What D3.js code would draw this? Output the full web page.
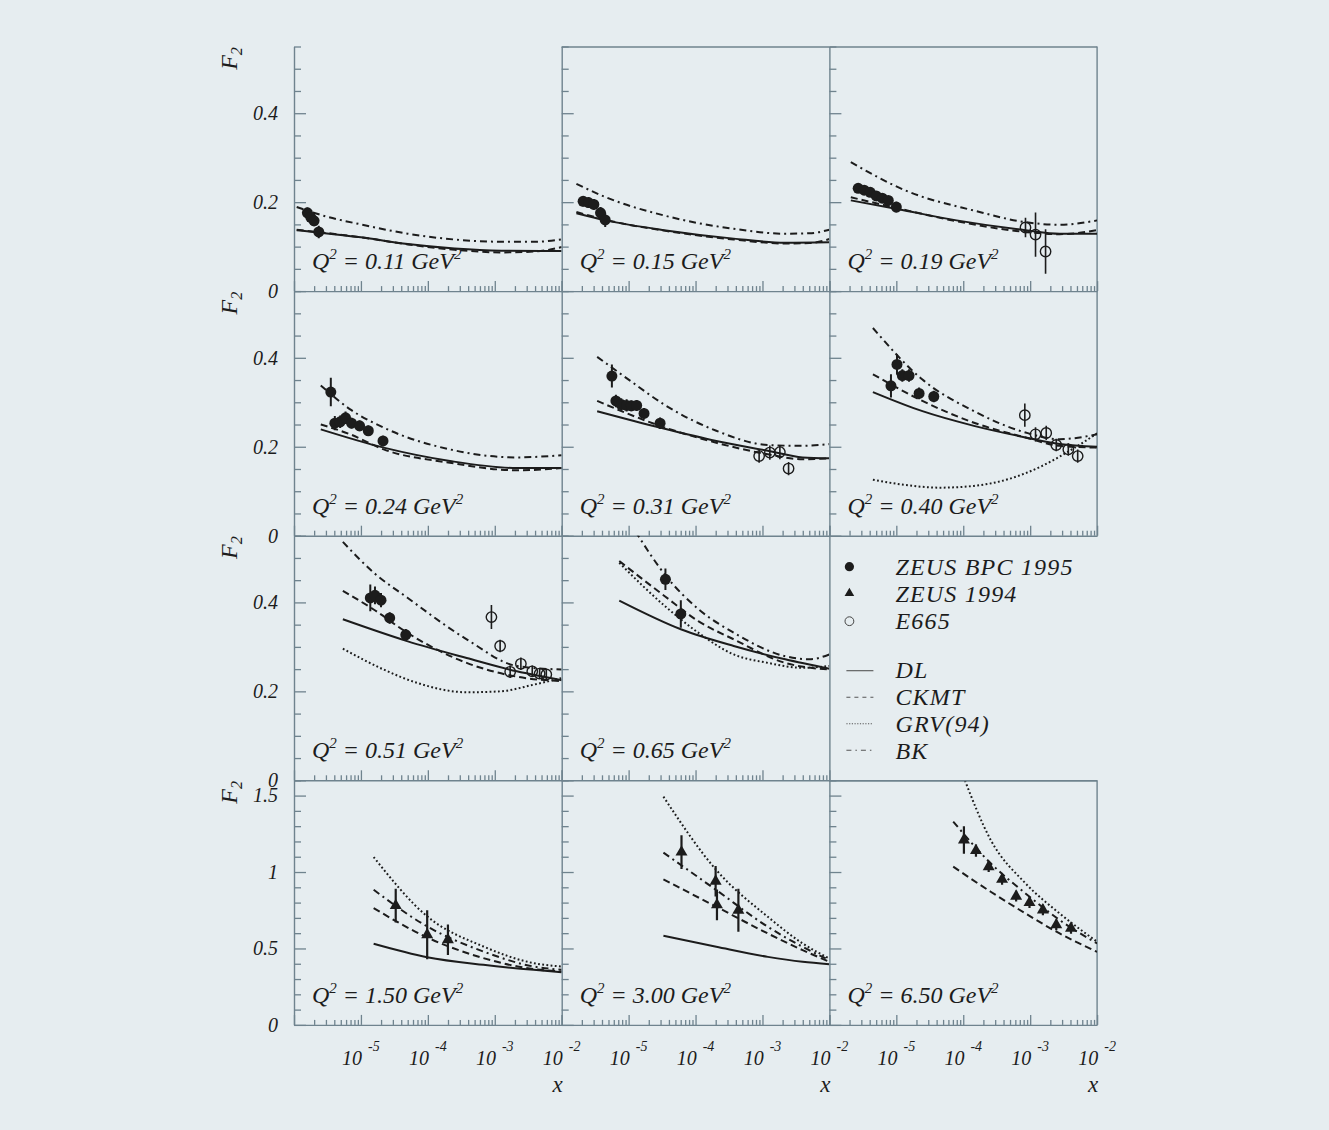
<!DOCTYPE html>
<html>
<head>
<meta charset="utf-8">
<script src="https://cdn.jsdelivr.net/npm/d3@7"></script>
<style>
  html, body { margin: 0; padding: 0; background: #e6edf0; }
  svg { display: block; }
  text { font-family: "Liberation Serif", "Times New Roman", serif; font-style: italic; }
</style>
</head>
<body>
<svg id="chart" width="1329" height="1130"></svg>
<script>
// Q² of each panel, in reading order (the legend occupies the ninth cell)
const q2Labels = ["0.11", "0.15", "0.19", "0.24", "0.31", "0.40", "0.51", "0.65", "1.50", "3.00", "6.50"];

// Measurements: [log10 x, F2, error]
const zeusBpc1995 = {
  "0.11": [[-5.80, 0.176, 0.012], [-5.75, 0.166, 0.012], [-5.70, 0.158, 0.012], [-5.63, 0.133, 0.014]],
  "0.15": [[-5.68, 0.202, 0.012], [-5.60, 0.199, 0.012], [-5.52, 0.195, 0.012], [-5.42, 0.176, 0.013], [-5.35, 0.160, 0.016]],
  "0.19": [[-5.57, 0.231, 0.010], [-5.48, 0.227, 0.010], [-5.39, 0.222, 0.010], [-5.30, 0.214, 0.010], [-5.21, 0.209, 0.010], [-5.12, 0.204, 0.010], [-5.00, 0.189, 0.012]],
  "0.24": [[-5.45, 0.323, 0.032], [-5.39, 0.253, 0.016], [-5.31, 0.256, 0.014], [-5.23, 0.265, 0.014], [-5.14, 0.253, 0.012], [-5.02, 0.247, 0.012], [-4.89, 0.236, 0.012], [-4.67, 0.213, 0.012]],
  "0.31": [[-5.25, 0.359, 0.026], [-5.19, 0.303, 0.014], [-5.11, 0.295, 0.014], [-5.03, 0.293, 0.014], [-4.96, 0.292, 0.012], [-4.88, 0.293, 0.012], [-4.77, 0.275, 0.012], [-4.53, 0.253, 0.013]],
  "0.40": [[-5.08, 0.337, 0.026], [-4.99, 0.385, 0.023], [-4.91, 0.360, 0.014], [-4.81, 0.360, 0.014], [-4.66, 0.320, 0.013], [-4.44, 0.313, 0.013]],
  "0.51": [[-4.86, 0.410, 0.030], [-4.79, 0.416, 0.020], [-4.70, 0.405, 0.016], [-4.57, 0.365, 0.013], [-4.33, 0.327, 0.013]],
  "0.65": [[-4.45, 0.452, 0.024], [-4.22, 0.374, 0.031]]
};
const zeus1994 = {
  "1.50": [[-4.48, 0.78, 0.11], [-4.01, 0.59, 0.16], [-3.70, 0.557, 0.10]],
  "3.00": [[-4.21, 1.13, 0.11], [-3.70, 0.94, 0.10], [-3.68, 0.785, 0.10], [-3.36, 0.75, 0.14]],
  "6.50": [[-3.99, 1.21, 0.09], [-3.81, 1.14, 0.04], [-3.62, 1.035, 0.035], [-3.42, 0.952, 0.035], [-3.21, 0.842, 0.035],
           [-3.01, 0.800, 0.035], [-2.81, 0.752, 0.035], [-2.61, 0.654, 0.035], [-2.39, 0.632, 0.035]]
};
const e665 = {
  "0.19": [[-3.07, 0.143, 0.022], [-2.92, 0.127, 0.050], [-2.77, 0.089, 0.050]],
  "0.31": [[-3.05, 0.179, 0.015], [-2.89, 0.187, 0.016], [-2.74, 0.188, 0.016], [-2.61, 0.151, 0.015]],
  "0.40": [[-3.08, 0.271, 0.026], [-2.92, 0.228, 0.016], [-2.76, 0.231, 0.016], [-2.61, 0.204, 0.014], [-2.43, 0.194, 0.014], [-2.29, 0.179, 0.015]],
  "0.51": [[-3.05, 0.367, 0.027], [-2.92, 0.302, 0.014], [-2.77, 0.244, 0.014], [-2.61, 0.262, 0.014], [-2.44, 0.245, 0.013], [-2.33, 0.240, 0.012], [-2.23, 0.238, 0.012]]
};

// Model predictions: [log10 x, F2]
const dlCurve = {
  "0.11": [[-5.96, 0.137], [-5.64, 0.132], [-5.0, 0.121], [-4.3, 0.106], [-3.6, 0.096], [-2.9, 0.091], [-2.0, 0.090]],
  "0.15": [[-5.78, 0.175], [-5.34, 0.159], [-4.47, 0.137], [-3.43, 0.118], [-2.66, 0.109], [-2.0, 0.110]],
  "0.19": [[-5.68, 0.204], [-4.97, 0.184], [-4.10, 0.159], [-3.07, 0.137], [-2.56, 0.129], [-2.0, 0.129]],
  "0.24": [[-5.60, 0.239], [-4.66, 0.198], [-3.67, 0.168], [-2.67, 0.152], [-2.0, 0.152]],
  "0.31": [[-5.47, 0.280], [-4.53, 0.243], [-3.69, 0.213], [-2.92, 0.191], [-2.40, 0.176], [-2.0, 0.174]],
  "0.40": [[-5.35, 0.323], [-4.61, 0.280], [-3.84, 0.247], [-3.07, 0.221], [-2.56, 0.206], [-2.0, 0.200]],
  "0.51": [[-5.27, 0.362], [-4.31, 0.313], [-3.42, 0.275], [-2.67, 0.245], [-2.0, 0.225]],
  "0.65": [[-5.14, 0.404], [-4.21, 0.339], [-3.43, 0.302], [-2.66, 0.272], [-2.0, 0.251]],
  "1.50": [[-4.81, 0.531], [-4.01, 0.443], [-3.17, 0.393], [-2.42, 0.360], [-2.0, 0.345]],
  "3.00": [[-4.48, 0.583], [-3.69, 0.511], [-2.92, 0.445], [-2.40, 0.413], [-2.0, 0.397]]
};
const ckmtCurve = {
  "0.11": [[-5.96, 0.138], [-5.0, 0.121], [-4.3, 0.105], [-3.6, 0.093], [-2.9, 0.087], [-2.4, 0.089], [-2.0, 0.099]],
  "0.15": [[-5.78, 0.178], [-5.34, 0.160], [-4.47, 0.136], [-3.43, 0.116], [-2.66, 0.107], [-2.3, 0.108], [-2.0, 0.117]],
  "0.19": [[-5.68, 0.211], [-4.97, 0.186], [-4.10, 0.157], [-3.07, 0.133], [-2.56, 0.128], [-2.0, 0.137]],
  "0.24": [[-5.60, 0.250], [-5.16, 0.228], [-4.66, 0.194], [-3.67, 0.164], [-2.67, 0.147], [-2.0, 0.152]],
  "0.31": [[-5.47, 0.303], [-4.53, 0.247], [-3.69, 0.209], [-2.92, 0.183], [-2.40, 0.172], [-2.0, 0.174]],
  "0.40": [[-5.35, 0.363], [-4.61, 0.303], [-3.84, 0.254], [-3.07, 0.221], [-2.56, 0.202], [-2.0, 0.198]],
  "0.51": [[-5.27, 0.426], [-4.81, 0.384], [-4.31, 0.332], [-3.42, 0.264], [-2.67, 0.233], [-2.0, 0.223]],
  "0.65": [[-5.14, 0.493], [-4.46, 0.414], [-3.96, 0.358], [-3.43, 0.317], [-2.66, 0.264], [-2.0, 0.249]],
  "1.50": [[-4.81, 0.764], [-4.01, 0.572], [-3.17, 0.437], [-2.42, 0.365], [-2.0, 0.349]],
  "3.00": [[-4.48, 0.952], [-3.69, 0.773], [-2.92, 0.598], [-2.40, 0.489], [-2.0, 0.413]],
  "6.50": [[-4.15, 1.035], [-3.59, 0.871], [-3.07, 0.729], [-2.56, 0.598], [-2.0, 0.478]]
};
const grvCurve = {
  "0.40": [[-5.35, 0.126], [-4.86, 0.114], [-4.35, 0.108], [-3.84, 0.112], [-3.33, 0.127], [-2.82, 0.157], [-2.41, 0.191], [-2.0, 0.230]],
  "0.51": [[-5.27, 0.296], [-4.66, 0.249], [-4.16, 0.219], [-3.42, 0.198], [-2.92, 0.200], [-2.42, 0.215], [-2.0, 0.230]],
  "0.65": [[-5.14, 0.489], [-4.46, 0.392], [-3.96, 0.332], [-3.43, 0.283], [-2.92, 0.264], [-2.40, 0.253], [-2.0, 0.257]],
  "1.50": [[-4.81, 1.098], [-4.01, 0.710], [-3.17, 0.513], [-2.42, 0.404], [-2.0, 0.382]],
  "3.00": [[-4.48, 1.493], [-3.69, 1.013], [-2.92, 0.707], [-2.40, 0.533], [-2.0, 0.434]],
  "6.50": [[-4.02, 1.650], [-3.59, 1.210], [-3.07, 0.926], [-2.56, 0.729], [-2.0, 0.544]]
};
const bkCurve = {
  "0.11": [[-5.96, 0.189], [-5.5, 0.167], [-5.0, 0.150], [-4.3, 0.129], [-3.6, 0.116], [-2.9, 0.111], [-2.4, 0.111], [-2.0, 0.116]],
  "0.15": [[-5.78, 0.241], [-5.34, 0.211], [-4.47, 0.170], [-3.43, 0.140], [-2.66, 0.129], [-2.3, 0.130], [-2.0, 0.138]],
  "0.19": [[-5.68, 0.290], [-4.86, 0.226], [-3.84, 0.181], [-3.07, 0.155], [-2.56, 0.149], [-2.0, 0.159]],
  "0.24": [[-5.60, 0.338], [-5.16, 0.284], [-4.66, 0.243], [-3.67, 0.194], [-2.67, 0.176], [-2.0, 0.181]],
  "0.31": [[-5.47, 0.402], [-5.0, 0.351], [-4.47, 0.295], [-3.69, 0.236], [-2.92, 0.204], [-2.40, 0.202], [-2.0, 0.206]],
  "0.40": [[-5.35, 0.467], [-4.61, 0.351], [-3.84, 0.280], [-3.07, 0.232], [-2.56, 0.217], [-2.0, 0.228]],
  "0.51": [[-5.27, 0.536], [-4.81, 0.467], [-4.31, 0.411], [-3.42, 0.317], [-2.67, 0.257], [-2.0, 0.249]],
  "0.65": [[-4.90, 0.560], [-4.44, 0.459], [-3.95, 0.384], [-3.43, 0.332], [-2.66, 0.279], [-2.3, 0.272], [-2.0, 0.283]],
  "1.50": [[-4.81, 0.884], [-4.01, 0.644], [-3.17, 0.480], [-2.42, 0.382], [-2.0, 0.360]],
  "3.00": [[-4.48, 1.127], [-3.69, 0.882], [-2.92, 0.642], [-2.40, 0.511], [-2.0, 0.424]],
  "6.50": [[-4.15, 1.330], [-3.59, 1.057], [-3.07, 0.860], [-2.56, 0.686], [-2.0, 0.533]]
};

// Axis labelling
const yLabelsLow = [0, 0.2, 0.4];
const yLabelsHigh = [0, 0.5, 1, 1.5];
const xLabelExponents = [-5, -4, -3, -2];

const legendMarkers = ["ZEUS BPC 1995", "ZEUS 1994", "E665"];
const legendModels = ["DL", "CKMT", "GRV(94)", "BK"];

// ---------------------------------------------------------------------------
const svg = d3.select("#chart");
const ink = "#1c1c1c";
const frame = "#6f838e";
const originX = 294, originY = 46.5;
const PW = 267.7, PH = 244.6;

const x = d3.scaleLog().domain([1e-6, 1e-2]).range([0, PW]);
const yLow = d3.scaleLinear().domain([0, 0.55]).range([PH, 0]);
const yHigh = d3.scaleLinear().domain([0, 1.6]).range([PH, 0]);

const styles = {
  DL:   { dash: null,        width: 2.0 },
  CKMT: { dash: "7,4",       width: 2.0 },
  GRV:  { dash: "1.8,2.4",   width: 2.0 },
  BK:   { dash: "7,4,2,4",   width: 2.0 }
};
const curveSets = [["DL", dlCurve], ["CKMT", ckmtCurve], ["GRV", grvCurve], ["BK", bkCurve]];

svg.append("defs").append("clipPath").attr("id", "clipPanel")
  .append("rect").attr("width", PW).attr("height", PH);

const isDecade = v => Math.abs(Math.log10(v) - Math.round(Math.log10(v))) < 1e-9;
const xAll = x.ticks();
const xMajor = xAll.filter(isDecade);
const xMinor = xAll.filter(v => !isDecade(v));

function styleAxis(sel) {
  sel.attr("color", frame);
  sel.selectAll("line").attr("stroke-width", 1.3);
  sel.selectAll("path.domain").attr("stroke-width", 1.4);
}

function cellOf(i) { const c = i < 8 ? i : i + 1; return { row: Math.floor(c / 3), col: c % 3 }; }

q2Labels.forEach((q, i) => {
  const { row, col } = cellOf(i);
  const y = row < 3 ? yLow : yHigh;
  const g = svg.append("g").attr("transform", `translate(${originX + col * PW},${originY + row * PH})`);

  // bottom axis: minor + decade ticks pointing into the panel
  g.append("g").attr("transform", `translate(0,${PH})`)
    .call(d3.axisBottom(x).tickValues(xMinor).tickSize(-5).tickSizeOuter(0).tickFormat(""))
    .call(styleAxis);
  g.append("g").attr("transform", `translate(0,${PH})`)
    .call(d3.axisBottom(x).tickValues(xMajor).tickSize(-10).tickSizeOuter(0).tickFormat(""))
    .call(styleAxis).call(a => a.select(".domain").remove());

  // left axis
  const step = row < 3 ? 0.05 : 0.1;
  const top = y.domain()[1];
  const majors = row < 3 ? yLabelsLow : yLabelsHigh;
  const minors = d3.range(0, top + 1e-9, step).filter(v => !majors.some(m => Math.abs(m - v) < 1e-9));
  g.append("g")
    .call(d3.axisLeft(y).tickValues(minors).tickSize(-7).tickSizeOuter(0).tickFormat(""))
    .call(styleAxis);
  const yMaj = g.append("g")
    .call(d3.axisLeft(y).tickValues(majors).tickSize(-12).tickSizeOuter(0).tickPadding(16)
      .tickFormat(col === 0 ? (d => String(d)) : ""))
    .call(styleAxis).call(a => a.select(".domain").remove());
  yMaj.selectAll("text").attr("fill", ink).style("font-size", "20px")
    .style("font-family", '"Liberation Serif", serif').style("font-style", "italic");

  // frame pieces
  if (row === 0 && col > 0) g.append("line").attr("x1", 0).attr("x2", PW).attr("y1", 0.5).attr("y2", 0.5)
    .attr("stroke", frame).attr("stroke-width", 1.4);
  if (col === 2) g.append("line").attr("x1", PW).attr("x2", PW).attr("y1", 0).attr("y2", PH)
    .attr("stroke", frame).attr("stroke-width", 1.4);
  if (row === 3 && col === 2) g.append("line").attr("x1", 0).attr("x2", PW).attr("y1", 0.5).attr("y2", 0.5)
    .attr("stroke", frame).attr("stroke-width", 1.4);

  // model curves
  const plot = g.append("g").attr("clip-path", "url(#clipPanel)");
  const line = d3.line().x(d => x(Math.pow(10, d[0]))).y(d => y(d[1])).curve(d3.curveMonotoneX);
  curveSets.forEach(([name, set]) => {
    if (!set[q]) return;
    plot.append("path").datum(set[q]).attr("d", line)
      .attr("fill", "none").attr("stroke", ink)
      .attr("stroke-width", styles[name].width)
      .attr("stroke-dasharray", styles[name].dash);
  });

  // measurements
  const px = d => x(Math.pow(10, d[0]));
  const drawBars = (pts, w) => plot.selectAll(null).data(pts).join("line")
    .attr("x1", px).attr("x2", px)
    .attr("y1", d => y(d[1] - d[2])).attr("y2", d => y(d[1] + d[2]))
    .attr("stroke", ink).attr("stroke-width", w);

  if (zeusBpc1995[q]) {
    drawBars(zeusBpc1995[q], 2);
    plot.selectAll(null).data(zeusBpc1995[q]).join("circle")
      .attr("cx", px).attr("cy", d => y(d[1])).attr("r", 5.5).attr("fill", ink);
  }
  if (zeus1994[q]) {
    drawBars(zeus1994[q], 2.2);
    plot.selectAll(null).data(zeus1994[q]).join("path")
      .attr("d", d3.symbol(d3.symbolTriangle, 62))
      .attr("transform", d => `translate(${px(d)},${y(d[1])})`).attr("fill", ink);
  }
  if (e665[q]) {
    plot.selectAll(null).data(e665[q]).join("circle")
      .attr("cx", px).attr("cy", d => y(d[1])).attr("r", 5.2)
      .attr("fill", "none").attr("stroke", ink).attr("stroke-width", 1.4);
    drawBars(e665[q], 1.6);
  }

  // Q² annotation
  const t = g.append("text").attr("x", 18).attr("y", PH - 22).attr("fill", ink).style("font-size", "24px");
  t.append("tspan").text("Q");
  t.append("tspan").attr("dy", -10).style("font-size", "15px").text("2");
  t.append("tspan").attr("dy", 10).text(` = ${q} GeV`);
  t.append("tspan").attr("dy", -10).style("font-size", "15px").text("2");

  // x tick labels along the bottom row
  if (row === 3) {
    xLabelExponents.forEach(e => {
      const lt = g.append("text").attr("x", x(Math.pow(10, e))).attr("y", PH + 40)
        .attr("text-anchor", "middle").attr("fill", ink).style("font-size", "20px");
      lt.append("tspan").text("10");
      lt.append("tspan").attr("dx", 6).attr("dy", -14).style("font-size", "14px").text(String(e));
    });
    g.append("text").attr("x", PW - 4).attr("y", PH + 67).attr("text-anchor", "middle")
      .attr("fill", ink).style("font-size", "23px").text("x");
  }
});

// F2 axis titles, one per row
[0, 1, 2, 3].forEach(r => {
  const t = svg.append("text")
    .attr("transform", `translate(237,${originY + r * PH + 12}) rotate(-90)`)
    .attr("text-anchor", "middle").attr("fill", ink).style("font-size", "24px");
  t.append("tspan").text("F");
  t.append("tspan").attr("dy", 5).style("font-size", "16px").text("2");
});

// legend cell
const lg = svg.append("g").attr("transform", `translate(${originX + 2 * PW},${originY + 2 * PH})`);
lg.append("line").attr("x1", 0.5).attr("x2", 0.5).attr("y1", 0).attr("y2", PH).attr("stroke", frame).attr("stroke-width", 1.4);
lg.append("line").attr("x1", 0).attr("x2", PW).attr("y1", PH + 0.5).attr("y2", PH + 0.5).attr("stroke", frame).attr("stroke-width", 1.4);

const legendFont = "24px";
const markerBaselines = [39.5, 66.5, 93.5];
const markerCentres = [31, 57.5, 85.5];
legendMarkers.forEach((name, k) => {
  const cy = markerCentres[k];
  if (k === 0) lg.append("circle").attr("cx", 20).attr("cy", cy).attr("r", 4.6).attr("fill", ink);
  if (k === 1) lg.append("path").attr("d", d3.symbol(d3.symbolTriangle, 40)).attr("transform", `translate(20,${cy})`).attr("fill", ink);
  if (k === 2) lg.append("circle").attr("cx", 20).attr("cy", cy).attr("r", 4.4).attr("fill", "none").attr("stroke", "#444").attr("stroke-width", 1);
  lg.append("text").attr("x", 66).attr("y", markerBaselines[k]).attr("fill", ink)
    .style("font-size", legendFont).style("letter-spacing", "1.2px").text(name);
});
const modelBaselines = [142.5, 169.3, 196.1, 222.9];
const modelLineY = [135, 161.5, 188, 214.5];
legendModels.forEach((name, k) => {
  const cy = modelLineY[k];
  lg.append("line").attr("x1", 17).attr("x2", 44).attr("y1", cy).attr("y2", cy)
    .attr("stroke", "#555").attr("stroke-width", 1.1)
    .attr("stroke-dasharray", k === 1 ? "4,4" : k === 2 ? "1.2,1.5" : k === 3 ? "5,4,1.5,4" : null);
  lg.append("text").attr("x", 66).attr("y", modelBaselines[k]).attr("fill", ink)
    .style("font-size", legendFont).style("letter-spacing", "1.2px").text(name);
});
</script>
</body>
</html>
